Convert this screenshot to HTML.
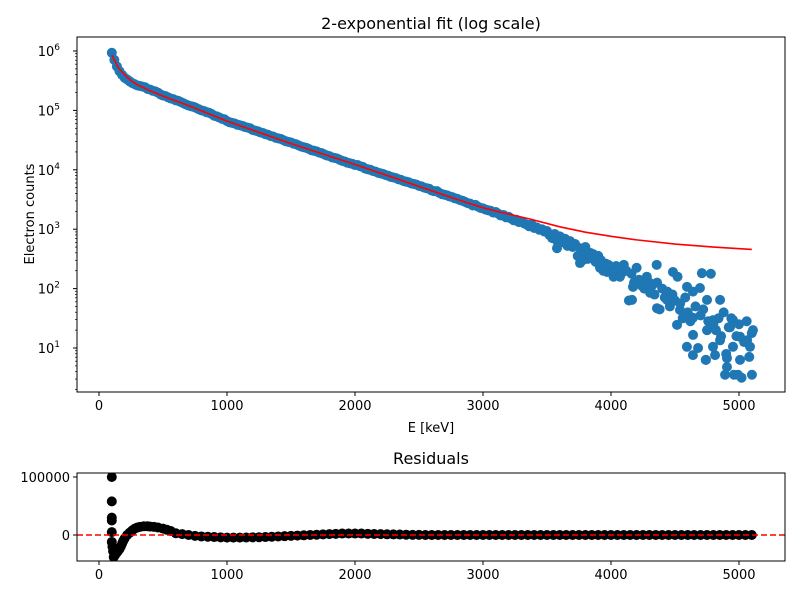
<!DOCTYPE html>
<html><head><meta charset="utf-8"><style>
body{margin:0;background:#fff}
svg text{font-family:"DejaVu Sans","Liberation Sans",sans-serif;fill:#000}
</style></head><body>
<svg id="c" width="800" height="600" xmlns="http://www.w3.org/2000/svg"></svg>
<script>
// ---- data ----
const fitE=[100,120,150,200,250,300,400,500,700,1000,1500,2000,2500,2800,3000,3130,3370,3600,3800,4000,4200,4500,4800,5100];
const fitLog=[5.93,5.85,5.72,5.6,5.5,5.43,5.33,5.24,5.08,4.82,4.44,4.09,3.72,3.50,3.36,3.29,3.17,3.04,2.95,2.88,2.82,2.75,2.70,2.66];
const countsLog=[5.97,5.85,5.74,5.66,5.6,5.55,5.52,5.49,5.46,5.44,5.42,
5.41,5.4,5.39,5.36,5.35,5.33,5.32,5.3,5.27,5.25,5.24,5.22,5.2,5.19,5.17,5.16,5.14,5.12,5.1,5.08,5.07,5.06,5.04,5.02,5.0,4.99,4.97,4.96,4.94,4.91,4.9,4.88,4.86,4.85,4.82,
4.80,4.79,4.78,4.76,4.75,4.74,4.72,4.71,4.70,4.67,4.66,4.65,4.63,4.62,4.60,4.59,4.57,4.56,4.54,4.53,
4.52,4.50,4.48,4.47,4.46,4.44,4.43,4.41,4.39,4.38,4.37,4.35,4.33,4.32,4.31,4.29,4.28,4.26,4.24,4.23,
4.21,4.20,4.19,4.17,4.15,4.14,4.12,4.11,4.10,4.08,
4.08,4.06,4.05,4.02,4.01,4.00,3.98,3.97,3.95,3.94,3.93,3.91,3.90,3.88,3.87,3.86,3.84,3.83,3.81,3.80,
3.79,3.77,3.76,3.75,3.73,3.72,3.70,3.69,3.68,3.65,3.64,3.64,3.61,3.59,3.58,3.57,3.55,3.54,3.52,3.51,
3.49,3.48,3.46,3.44,3.43,3.40,3.41,3.38,3.36,3.35,
3.33,3.32,3.31,3.28,3.29,3.26,3.23,3.24,3.20,3.21,3.18,3.15,3.16,3.12,3.13,3.10,3.08,3.05,3.08,3.02,3.03,2.99,3.00,2.96,2.97,
2.90,2.85,2.92,2.80,2.88,2.78,2.84,2.72,2.80,2.70,
2.75,2.55,2.68,2.62,2.70,2.50,2.60,2.58,2.45,2.55,
2.48,2.30,2.42,2.40,2.35,2.20,2.38,2.32,2.25,2.40,
2.30,1.80,2.25,2.10,2.35,2.15,2.05,2.00,2.20,2.10,
2.05,1.90,2.10,1.65,2.00,1.85,1.95,1.70,1.90,1.80,
2.20,1.75,1.50,1.85,1.60,1.45,1.95,1.70,1.00,1.55,
1.65,0.80,1.45,2.25,1.40,1.30,1.50,1.20,1.60,0.90,
1.35,1.50,0.55,1.20,1.40,0.50,1.10,1.45,0.85,1.25];
const tailE=[4357,4484,4710,4164,4593,4640,4742,4813,4906,5008,4906,4891,4992,5101,4359,4516,4641,4797,4953,5109,5063,4750,4852,4695,4594,4438,4250,4070,3969,3781,3914,3578,3758,4172,4305,4539,4797,4930,5008,4852,5086,4750,4641,4438,4953];
const tailLog=[2.40,2.28,2.26,1.81,1.02,0.88,0.80,0.88,0.83,0.80,0.68,0.55,0.55,0.55,1.67,1.39,1.22,1.02,1.47,1.30,1.13,1.81,1.81,2.01,2.03,1.93,2.09,2.20,2.28,2.48,2.35,2.68,2.43,2.03,1.93,1.64,1.47,1.35,1.19,1.13,1.02,1.30,1.51,1.81,1.02];
const earlyResE=[100,100,100,100,100,100,105,110,115,120,130,140,150,160,170,180,190,200,220,240,260,280,300,320,350,380,400,430,460,500,530,560];
const earlyRes=[100000,58000,30000,25000,5000,-12000,-20000,-28000,-38000,-36000,-33000,-30000,-27000,-24000,-20000,-15000,-10000,-6000,0,4000,8000,11000,13000,14000,15000,15000,14500,14000,13000,11000,9000,7000];
const lateRes=[3000,1500,0,-1500,-2500,-3000,-3500,-4000,-4500,-4500,-4500,-4300,-4000,-3800,-3500,-3000,-2500,-2000,-1500,-1000,-500,0,500,1000,1500,2000,2500,2500,2500,2500,2000,1800,1500,1200,1000,800,500,300,200,0,
0,0,0,0,0,0,0,0,0,0,0,0,0,0,0,0,0,0,0,0,0,0,0,0,0,0,0,0,0,0,0,0,0,0,0,0,0,0,0,0,0,0,0,0,0,0,0,0,0,0,0];
const xTicks=[0,1000,2000,3000,4000,5000];
const yDecades=[1,2,3,4,5,6];
const resTicks=[0,100000];
// ---- axes ----
const NS="http://www.w3.org/2000/svg",svg=document.getElementById('c');
const X=v=>99+v*0.128;
const Y=l=>348-(l-1)*59.4;
const YR=v=>535-v*0.00058;
function el(t,a,p){const e=document.createElementNS(NS,t);for(const k in a)e.setAttribute(k,a[k]);(p||svg).appendChild(e);return e;}
function txt(s,a){const e=el('text',a);e.textContent=s;return e;}
const T=el('g',{});
const R=el('g',{});
const cp=el('clipPath',{id:'c1'});el('rect',{x:77,y:37,width:708,height:355},cp);
const cp2=el('clipPath',{id:'c2'});el('rect',{x:77,y:473,width:708,height:88},cp2);
const sg=el('g',{'clip-path':'url(#c1)'},T);
countsLog.forEach((l,i)=>{const e=el('circle',{cx:X(100+i*20),cy:Y(l),r:5,fill:'#1f77b4'},sg);

});
tailE.forEach((v,i)=>{const e=el('circle',{cx:X(v),cy:Y(tailLog[i]),r:5,fill:'#1f77b4'},sg);

});
const fl=el('polyline',{points:fitE.map((e,i)=>X(e)+','+Y(fitLog[i])).join(' '),fill:'none',stroke:'#ff0000','stroke-width':1.6,'stroke-linejoin':'round'},sg);


el('rect',{x:77,y:37,width:708,height:355,fill:'none',stroke:'#000','stroke-width':1},T);
xTicks.forEach(v=>{el('line',{x1:X(v),x2:X(v),y1:392,y2:396,stroke:'#000'},T);
const t=txt(v,{x:X(v),y:410,'font-size':13,'text-anchor':'middle'});
el('line',{x1:X(v),x2:X(v),y1:561,y2:565,stroke:'#000'},R);
const t2=txt(v,{x:X(v),y:579,'font-size':13,'text-anchor':'middle'});});
yDecades.forEach(d=>{el('line',{x1:73,x2:77,y1:Y(d),y2:Y(d),stroke:'#000'},T);
const t=txt('10',{x:60,y:Y(d)+5,'font-size':13,'text-anchor':'end'});el('tspan',{dy:-6,'font-size':9},t).textContent=d;
});
for(let d=0;d<=6;d++)for(let m=2;m<10;m++){const l=d+Math.log10(m);const y=Y(l);if(y>37&&y<392)el('line',{x1:75,x2:77,y1:y,y2:y,stroke:'#000','stroke-width':0.7},T);}
const tt=txt('2-exponential fit (log scale)',{x:431,y:29,'font-size':16,'text-anchor':'middle'});
const xl=txt('E [keV]',{x:431,y:432,'font-size':13,'text-anchor':'middle'});
const yl=txt('Electron counts',{x:0,y:0,'font-size':13,'text-anchor':'middle',transform:'translate(34,214) rotate(-90)'});
const rg=el('g',{'clip-path':'url(#c2)'},R);
earlyResE.forEach((e,i)=>{const c=el('circle',{cx:X(e),cy:YR(earlyRes[i]),r:5,fill:'#000'},rg);

});
lateRes.forEach((v,i)=>{const c=el('circle',{cx:X(600+i*50),cy:YR(v),r:5,fill:'#000'},rg);

});
const zl=el('line',{x1:77,x2:785,y1:YR(0),y2:YR(0),stroke:'#ff0000','stroke-width':1.6,'stroke-dasharray':'6,3'},rg);


el('rect',{x:77,y:473,width:708,height:88,fill:'none',stroke:'#000'},R);
resTicks.forEach(v=>{el('line',{x1:73,x2:77,y1:YR(v),y2:YR(v),stroke:'#000'},R);
const t=txt(v,{x:70,y:YR(v)+5,'font-size':13,'text-anchor':'end'});});
const rt=txt('Residuals',{x:431,y:464,'font-size':16,'text-anchor':'middle'});
</script>
</body></html>
